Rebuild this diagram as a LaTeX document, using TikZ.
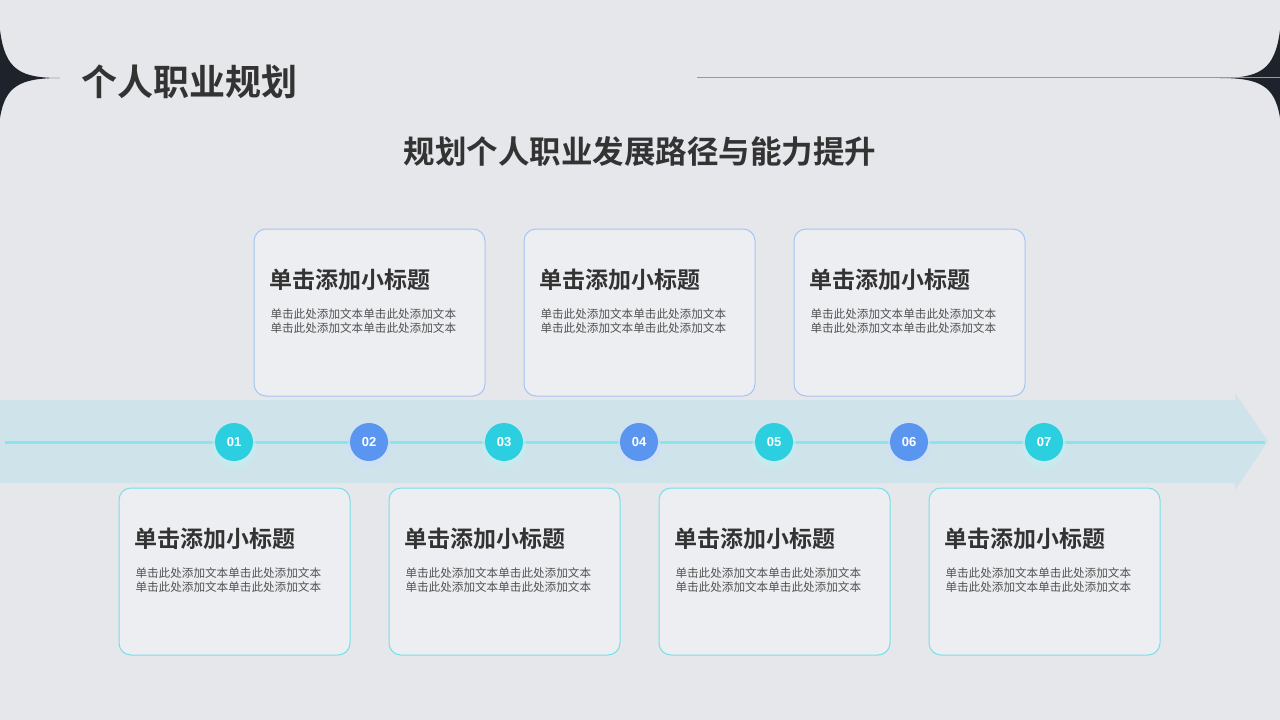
\documentclass[tikz,border=0pt]{standalone}
\usepackage{fontspec}
\setmainfont{Noto Sans CJK SC}
\newfontfamily\cjkb{Noto Sans CJK SC Bold}
\newfontfamily\numf{Liberation Sans}
\definecolor{bg}{HTML}{E5E7EB}
\definecolor{dark}{HTML}{1E222B}
\definecolor{txt}{HTML}{333333}
\definecolor{cy}{HTML}{2BCFDF}
\definecolor{bl}{HTML}{5A95F0}
\definecolor{band}{HTML}{CDE3EA}
\tikzset{x=1pt,y=-1pt,
 cardtop/.style={draw=bl!55,line width=1pt,rounded corners=12pt,fill=white!30!bg},
 cardbot/.style={draw=cy!65,line width=1pt,rounded corners=12pt,fill=white!30!bg},
 ttl/.style={anchor=west,font=\cjkb\fontsize{23}{23}\selectfont,text=txt},
 bod/.style={anchor=north west,align=left,font=\fontsize{11.6}{14.5}\selectfont,text=txt!85},
 dot/.style={circle,minimum size=38pt,inner sep=0,text=white,font=\numf\bfseries\fontsize{13}{13}\selectfont}}
\begin{document}
\begin{tikzpicture}
\fill[bg] (0,0) rectangle (1280,720);
\useasboundingbox (0,0) rectangle (1280,720);
\fill[dark] (0,30) .. controls (5,70) and (20,78) .. (60,78) .. controls (20,78) and (5,86) .. (0,118) -- cycle;
\fill[dark] (1280,30) .. controls (1275,70) and (1260,78) .. (1220,78) .. controls (1260,78) and (1275,86) .. (1280,118) -- cycle;
\node[anchor=west,font=\cjkb\fontsize{36}{36}\selectfont,text=txt] (h) at (78,82) {个人职业规划};
\coordinate (l1) at (697,77); \coordinate (l2) at (1280,77);
\draw[gray!80,line width=0.8pt] (l1) -- (l2);
\node[font=\cjkb\fontsize{31.5}{32}\selectfont,text=txt] (sub) at (640,152) {规划个人职业发展路径与能力提升};
\fill[band,opacity=0.9] (0,400) -- (1235,400) -- (1235,393) -- (1268,441) -- (1235,490) -- (1235,483) -- (0,483) -- cycle;
\coordinate (a0) at (5,442); \coordinate (a1) at (1265,442);
\draw[cy!55,line width=3pt] (a0) -- (a1);
\foreach \i/\x/\c in {1/234/cy,2/369/bl,3/504/cy,4/639/bl,5/774/cy,6/909/bl,7/1044/cy}{
 \fill[\c!30,opacity=0.5] (\x,446) circle (22);
 \node[dot,fill=\c] (d\i) at (\x,442) {0\i};}
\foreach \n/\x in {t1/254,t2/524,t3/794}{
 \draw[cardtop] (\x,229) rectangle (\x+231,396);
 \node[ttl] (\n) at (\x+12,280) {单击添加小标题};
 \node[bod] (\n b) at (\x+13,305) {单击此处添加文本单击此处添加文本\\单击此处添加文本单击此处添加文本};}
\foreach \n/\x in {b1/119,b2/389,b3/659,b4/929}{
 \draw[cardbot] (\x,488) rectangle (\x+231,655);
 \node[ttl] (\n) at (\x+12,539) {单击添加小标题};
 \node[bod] (\n b) at (\x+13,564) {单击此处添加文本单击此处添加文本\\单击此处添加文本单击此处添加文本};}
\end{tikzpicture}
\end{document}
